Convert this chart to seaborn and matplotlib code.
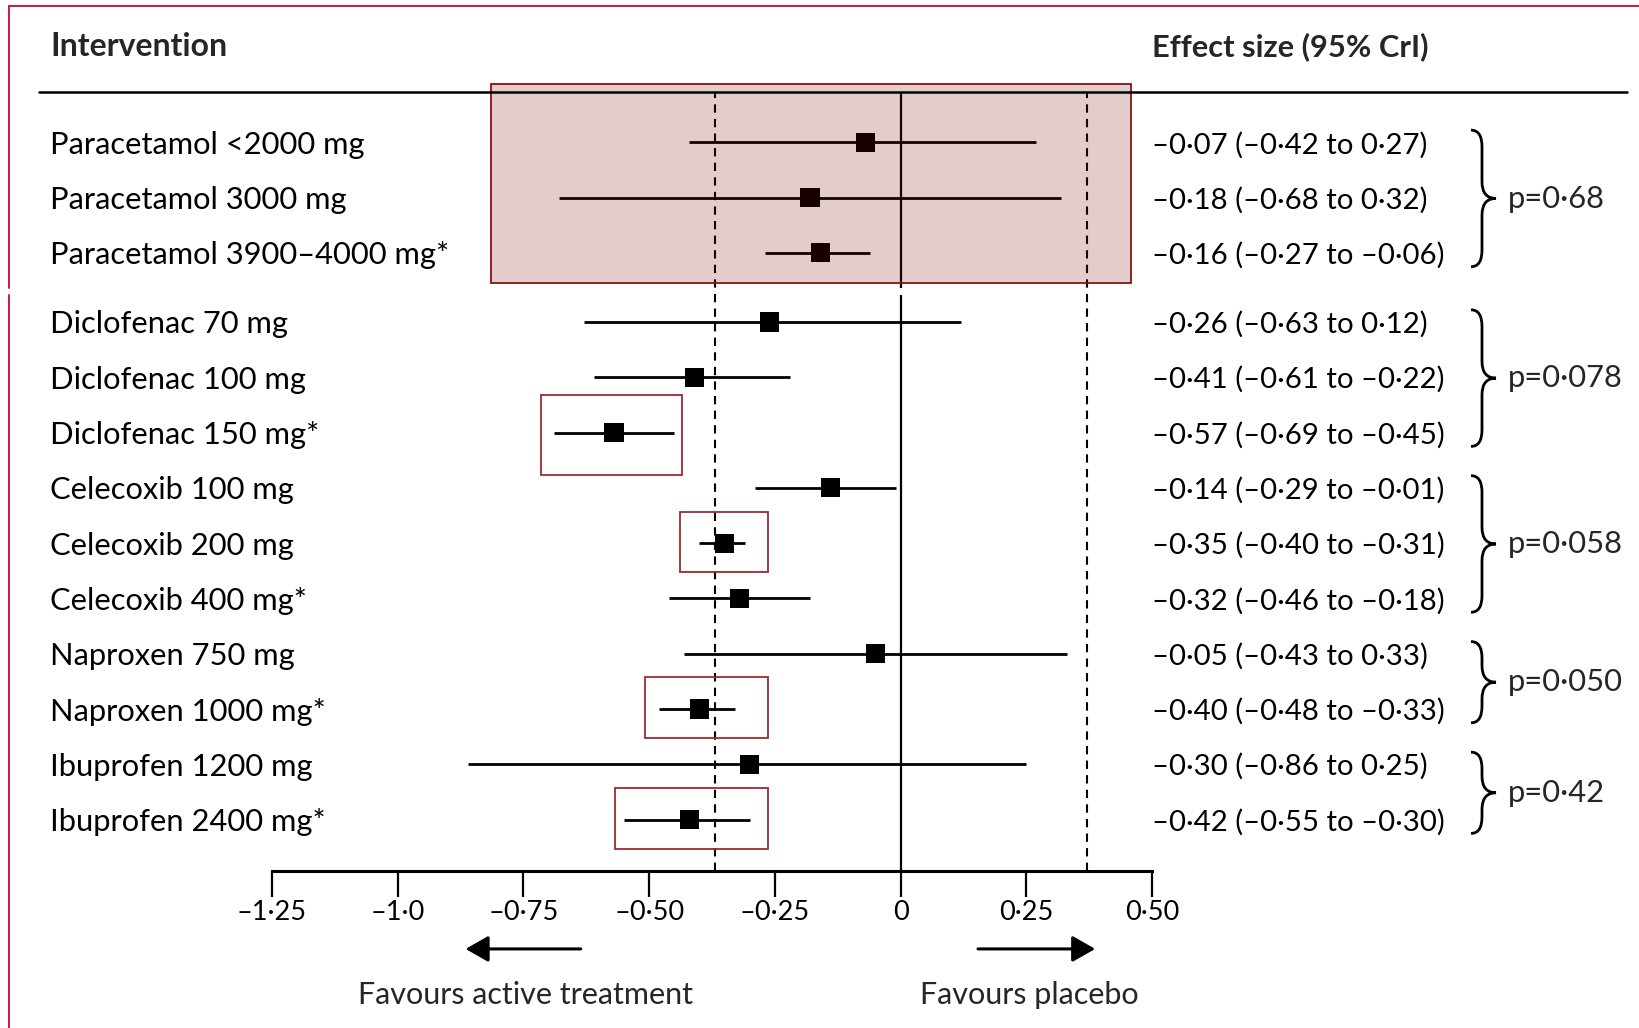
import numpy as np
import pandas as pd
import matplotlib
matplotlib.use("Agg")
import matplotlib.pyplot as plt
import seaborn as sns
from matplotlib.path import Path
from matplotlib.patches import PathPatch, Rectangle, FancyArrowPatch
from matplotlib.lines import Line2D
import matplotlib.transforms as mtransforms

# ---------------- data ----------------
interventions = [
    "Paracetamol <2000 mg", "Paracetamol 3000 mg", "Paracetamol 3900–4000 mg*",
    "Diclofenac 70 mg", "Diclofenac 100 mg", "Diclofenac 150 mg*",
    "Celecoxib 100 mg", "Celecoxib 200 mg", "Celecoxib 400 mg*",
    "Naproxen 750 mg", "Naproxen 1000 mg*",
    "Ibuprofen 1200 mg", "Ibuprofen 2400 mg*",
]
estimates = [-0.07, -0.18, -0.16, -0.26, -0.41, -0.57, -0.14, -0.35, -0.32, -0.05, -0.40, -0.30, -0.42]
ci_low = [-0.42, -0.68, -0.27, -0.63, -0.61, -0.69, -0.29, -0.40, -0.46, -0.43, -0.48, -0.86, -0.55]
ci_high = [0.27, 0.32, -0.06, 0.12, -0.22, -0.45, -0.01, -0.31, -0.18, 0.33, -0.33, 0.25, -0.30]
groups = ["Paracetamol"] * 3 + ["Diclofenac"] * 3 + ["Celecoxib"] * 3 + ["Naproxen"] * 2 + ["Ibuprofen"] * 2
group_names = ["Paracetamol", "Diclofenac", "Celecoxib", "Naproxen", "Ibuprofen"]
group_pvalues = ["p=0·68", "p=0·078", "p=0·058", "p=0·050", "p=0·42"]
mcid = 0.37
xticks = [-1.25, -1.0, -0.75, -0.5, -0.25, 0, 0.25, 0.5]
xtick_labels = ["–1·25", "–1·0", "–0·75", "–0·50", "–0·25", "0", "0·25", "0·50"]
highlighted = ["Diclofenac 150 mg*", "Celecoxib 200 mg", "Naproxen 1000 mg*", "Ibuprofen 2400 mg*"]
highlight_x = [(-0.715, -0.434), (-0.439, -0.264), (-0.509, -0.264), (-0.567, -0.264)]
highlight_h = [(-0.68, 0.77), (-0.57, 0.53), (-0.57, 0.53), (-0.57, 0.53)]

# ---------------- layout ----------------
W, H = 1639, 1028
pos = [i + (0.25 if i >= 3 else 0.0) for i in range(len(interventions))]
df = pd.DataFrame({"label": interventions, "est": estimates, "lo": ci_low,
                   "hi": ci_high, "group": groups, "pos": pos})

def fmt(v):
    return f"{v:.2f}".replace("-", "–").replace(".", "·")

sns.set_theme(style="white")
FONT = ["Lato", "DejaVu Sans"]
plt.rcParams["font.family"] = FONT

fig = plt.figure(figsize=(W / 100, H / 100), dpi=100)
ax_top_px, ax_bot_px = 92, 871
ax = fig.add_axes([272 / W, 1 - ax_bot_px / H, 880 / W, (ax_bot_px - ax_top_px) / H])
ax.set_xlim(-1.25, 0.5)
ax.set_ylim(13.18, -0.91)
ax.patch.set_alpha(0)

# reference lines
ax.axvline(0, color="black", lw=1.6, zorder=1)
for m in (-mcid, mcid):
    ax.axvline(m, color="black", lw=1.5, ls=(0, (4, 3)), zorder=1)

# CI lines
ax.hlines(df["pos"], df["lo"], df["hi"], color="black", lw=2.0, zorder=2)
# point estimates
sns.scatterplot(data=df, x="est", y="pos", marker="s", s=190, color="black",
                edgecolor="none", ax=ax, zorder=3, legend=False)

# shaded paracetamol box
ax.add_patch(Rectangle((-0.815, -1.06), 0.459 + 0.815, 2.55 + 1.06,
                       facecolor="#730000", alpha=0.2, edgecolor="none",
                       zorder=4, clip_on=False))
ax.add_patch(Rectangle((-0.815, -1.06), 0.459 + 0.815, 2.55 + 1.06,
                       facecolor="none", edgecolor="#8b1010", lw=1.3,
                       zorder=5, clip_on=False))
# gap in zero line below the box
gy0 = (288 - 142.2) / 55.3
gy1 = (295 - 142.2) / 55.3
ax.add_patch(Rectangle((-0.012, gy0), 0.024, gy1 - gy0, facecolor="white",
                       edgecolor="none", zorder=4))

# highlight boxes
for name, (x0, x1), (d0, d1) in zip(highlighted, highlight_x, highlight_h):
    yc = df.loc[df["label"] == name, "pos"].iloc[0]
    ax.add_patch(Rectangle((x0, yc + d0), x1 - x0, d1 - d0, facecolor="none",
                           edgecolor="#a02a2e", lw=1.3, zorder=5))

# axes styling
for s in ("top", "right", "left"):
    ax.spines[s].set_visible(False)
ax.spines["bottom"].set_linewidth(2.2)
ax.spines["bottom"].set_color("black")
ax.set_yticks([])
ax.set_xticks(xticks)
ax.set_xticklabels(xtick_labels)
ax.tick_params(axis="x", direction="out", length=19, width=1.6, pad=2,
               labelsize=19.5, colors="black", bottom=True)
ax.set_xlabel("")
ax.set_ylabel("")

# text columns
tr_fig_x = mtransforms.blended_transform_factory(fig.transFigure, ax.transData)
for _, r in df.iterrows():
    fig.text(50 / W, r["pos"], r["label"], transform=tr_fig_x, fontsize=22.2,
             va="center_baseline", ha="left", color="black")
    fig.text(1152 / W, r["pos"], f"{fmt(r['est'])} ({fmt(r['lo'])} to {fmt(r['hi'])})",
             transform=tr_fig_x, fontsize=21.2, va="center_baseline", ha="left", color="black")

# headers
fig.text(50 / W, 1 - 47 / H, "Intervention", fontsize=23, fontweight="bold", va="center")
fig.text(1152 / W, 1 - 47 / H, "Effect size (95% CrI)", fontsize=22.2, fontweight="bold", va="center")
fig.add_artist(Line2D([39 / W, 1627 / W], [1 - 92 / H, 1 - 92 / H], color="black", lw=1.8,
                      transform=fig.transFigure))

# braces and p values
def brace(y_top, y_bot, xl, xs, xt):
    ym = (y_top + y_bot) / 2
    r = 0.3
    verts = [(xl, y_top), (xs, y_top), (xs, y_top + r),
             (xs, ym - r),
             (xs, ym), (xt, ym),
             (xs, ym), (xs, ym + r),
             (xs, y_bot - r),
             (xs, y_bot), (xl, y_bot)]
    codes = [Path.MOVETO, Path.CURVE3, Path.CURVE3,
             Path.LINETO,
             Path.CURVE3, Path.CURVE3,
             Path.CURVE3, Path.CURVE3,
             Path.LINETO,
             Path.CURVE3, Path.CURVE3]
    return Path(verts, codes)

for g, ptxt in zip(group_names, group_pvalues):
    sub = df[df["group"] == g]
    yt = sub["pos"].min() - 0.22
    yb = sub["pos"].max() + 0.25
    p = brace(yt, yb, 1471 / W, 1482 / W, 1496 / W)
    fig.add_artist(PathPatch(p, facecolor="none", edgecolor="black", lw=2.0,
                             transform=tr_fig_x, clip_on=False))
    fig.text(1508 / W, (yt + yb) / 2 - 0.04, ptxt, transform=tr_fig_x, fontsize=22.2,
             va="center_baseline", ha="left")

# arrows and captions
arrow_y = (949 - 142.2) / 55.3
for x_from, x_to in ((-0.636, -0.865), (0.154, 0.387)):
    ax.add_patch(FancyArrowPatch((x_from, arrow_y), (x_to, arrow_y),
                                 arrowstyle="-|>,head_length=14,head_width=8",
                                 mutation_scale=1, lw=2.2, color="black",
                                 shrinkA=0, shrinkB=0, clip_on=False))
cap_y = (993 - 142.2) / 55.3
ax.text(-0.746, cap_y, "Favours active treatment", fontsize=22, ha="center",
        va="center_baseline", clip_on=False)
ax.text(0.257, cap_y, "Favours placebo", fontsize=22, ha="center",
        va="center_baseline", clip_on=False)

# page frame (crimson)
frame_c = "#c8184a"
fig.add_artist(Line2D([9 / W, 1], [1 - 6 / H, 1 - 6 / H], color=frame_c, lw=1.4,
                      transform=fig.transFigure))
fig.add_artist(Line2D([9 / W, 9 / W], [1 - 6 / H, 1 - 288 / H], color=frame_c, lw=1.4,
                      transform=fig.transFigure))
fig.add_artist(Line2D([9 / W, 9 / W], [1 - 295 / H, 0], color=frame_c, lw=1.4,
                      transform=fig.transFigure))

fig.savefig("out.png", dpi=100, facecolor="white")
